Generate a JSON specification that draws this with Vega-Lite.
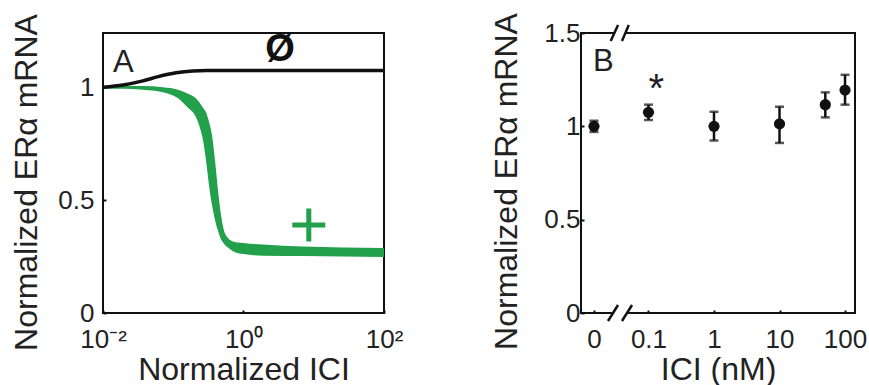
{
  "$schema": "https://vega.github.io/schema/vega-lite/v6.json",
  "padding": {"left": 9, "top": 11, "right": 5, "bottom": 0},
  "background": "white",
  "config": {
    "font": "Liberation Sans",
    "view": {"stroke": "#111", "strokeWidth": 2},
    "axis": {
      "domain": false, "grid": false,
      "labelFont": "Liberation Sans", "labelFontSize": 26, "labelColor": "#222",
      "titleFont": "Liberation Sans", "titleFontSize": 32, "titleFontWeight": "normal", "titleColor": "#222",
      "tickColor": "#111", "tickSize": -3, "tickWidth": 2
    }
  },
  "bounds": "flush",
  "spacing": 197,
  "hconcat": [
    {
      "width": 281, "height": 280,
      "encoding": {
        "x": {"field": "x", "type": "quantitative", "scale": {"type": "log", "domain": [0.01, 100]},
              "axis": {"values": [0.01, 1, 100], "labelExpr": "datum.value < 0.1 ? '10⁻²' : (datum.value > 10 ? '10²' : '10⁰')", "labelPadding": 16, "titlePadding": 2, "labelFlush": false},
              "title": "Normalized ICI"},
        "y": {"field": "y", "type": "quantitative", "scale": {"domain": [0, 1.24]},
              "axis": {"values": [0, 0.5, 1], "format": "~g", "labelPadding": 12, "titlePadding": 14, "titleY": 149},
              "title": "Normalized ERα mRNA"}
      },
      "layer": [
        {
          "data": {"values": [
            {"x": 0.01, "y": 1.005, "lo": 0.993},
            {"x": 0.01927, "y": 1.005, "lo": 0.993},
            {"x": 0.0371, "y": 1.005, "lo": 0.989},
            {"x": 0.07145, "y": 1.0, "lo": 0.978},
            {"x": 0.1168, "y": 0.989, "lo": 0.951},
            {"x": 0.1622, "y": 0.971, "lo": 0.909},
            {"x": 0.204, "y": 0.954, "lo": 0.876},
            {"x": 0.2403, "y": 0.929, "lo": 0.819},
            {"x": 0.2652, "y": 0.909, "lo": 0.765},
            {"x": 0.2925, "y": 0.889, "lo": 0.677},
            {"x": 0.3228, "y": 0.847, "lo": 0.566},
            {"x": 0.3561, "y": 0.788, "lo": 0.478},
            {"x": 0.3928, "y": 0.677, "lo": 0.412},
            {"x": 0.4335, "y": 0.544, "lo": 0.363},
            {"x": 0.4783, "y": 0.434, "lo": 0.327},
            {"x": 0.5278, "y": 0.365, "lo": 0.307},
            {"x": 0.6016, "y": 0.332, "lo": 0.29},
            {"x": 0.7087, "y": 0.317, "lo": 0.274},
            {"x": 1.0, "y": 0.31, "lo": 0.261},
            {"x": 1.895, "y": 0.303, "lo": 0.254},
            {"x": 7.03, "y": 0.294, "lo": 0.252},
            {"x": 26.1, "y": 0.29, "lo": 0.25},
            {"x": 100, "y": 0.288, "lo": 0.248}
          ]},
          "mark": {"type": "area", "color": "#22a04b", "interpolate": "monotone"},
          "encoding": {"y2": {"field": "lo"}}
        },
        {
          "data": {"values": [
            {"x": 0.01, "y": 1.0},
            {"x": 0.0193, "y": 1.01},
            {"x": 0.037, "y": 1.028},
            {"x": 0.061, "y": 1.047},
            {"x": 0.11, "y": 1.064},
            {"x": 0.19, "y": 1.072},
            {"x": 0.3, "y": 1.074},
            {"x": 1, "y": 1.074},
            {"x": 100, "y": 1.074}
          ]},
          "mark": {"type": "line", "color": "#111", "strokeWidth": 3.5, "interpolate": "monotone"}
        },
        {
          "data": {"values": [{"x": 0.01387, "y": 1.066, "t": "A"}]},
          "mark": {"type": "text", "align": "left", "baseline": "alphabetic", "fontSize": 31, "color": "#222"},
          "encoding": {"text": {"field": "t"}}
        },
        {
          "data": {"values": [{"x": 3.3, "y": 1.164, "t": "Ø"}]},
          "mark": {"type": "text", "align": "center", "baseline": "middle", "fontSize": 38, "fontWeight": "bold", "color": "#111"},
          "encoding": {"text": {"field": "t"}}
        },
        {
          "data": {"values": [{"x": 8.5, "y": 0.39}]},
          "mark": {"type": "point", "shape": "M-1,0H1M0,-1V1", "filled": false, "stroke": "#22a04b", "strokeWidth": 5, "size": 1089, "opacity": 1}
        }
      ]
    },
    {
      "width": 274, "height": 280,
      "encoding": {
        "x": {"field": "x", "type": "quantitative", "scale": {"type": "log", "domain": [0.00933, 142]},
              "axis": {"values": [0.01472, 0.1, 1, 10, 100], "labelExpr": "datum.value < 0.05 ? '0' : format(datum.value, '~g')", "labelPadding": 16, "titlePadding": 2, "labelFlush": false},
              "title": "ICI (nM)"},
        "y": {"field": "y", "type": "quantitative", "scale": {"domain": [0, 1.5]},
              "axis": {"values": [0, 0.5, 1, 1.5], "format": "~g", "labelPadding": 4, "titlePadding": 20, "titleY": 148},
              "title": "Normalized ERα mRNA"}
      },
      "layer": [
        {
          "data": {"values": [
            {"xa": 0.0288, "xb": 0.047, "ya": 0},
            {"xa": 0.0305, "xb": 0.044, "ya": 1.5}
          ]},
          "mark": {"type": "rule", "color": "white", "strokeWidth": 5},
          "encoding": {
            "x": {"field": "xa", "type": "quantitative"},
            "x2": {"field": "xb"},
            "y": {"field": "ya", "type": "quantitative"}
          }
        },
        {
          "data": {"values": [
            {"x1": 0.0241, "x2": 0.0343, "y1": -0.043, "y2": 0.043},
            {"x1": 0.0394, "x2": 0.0561, "y1": -0.043, "y2": 0.043},
            {"x1": 0.0265, "x2": 0.0343, "y1": 1.457, "y2": 1.543},
            {"x1": 0.0394, "x2": 0.05, "y1": 1.457, "y2": 1.543}
          ]},
          "mark": {"type": "rule", "color": "#111", "strokeWidth": 2.5},
          "encoding": {
            "x": {"field": "x1", "type": "quantitative"},
            "x2": {"field": "x2"},
            "y": {"field": "y1", "type": "quantitative"},
            "y2": {"field": "y2"}
          }
        },
        {
          "data": {"values": [
            {"ici": 0, "y": 1.0, "lo": 0.97, "hi": 1.03},
            {"ici": 0.1, "y": 1.075, "lo": 1.034, "hi": 1.116},
            {"ici": 1, "y": 1.0, "lo": 0.924, "hi": 1.078},
            {"ici": 10, "y": 1.013, "lo": 0.911, "hi": 1.105},
            {"ici": 50, "y": 1.116, "lo": 1.048, "hi": 1.182},
            {"ici": 100, "y": 1.194, "lo": 1.116, "hi": 1.276}
          ]},
          "transform": [{"calculate": "datum.ici == 0 ? 0.01472 : datum.ici", "as": "x"}],
          "layer": [
            {
              "mark": {"type": "rule", "color": "#111", "strokeWidth": 2.5},
              "encoding": {"y": {"field": "lo", "type": "quantitative"}, "y2": {"field": "hi"}}
            },
            {
              "mark": {"type": "tick", "orient": "horizontal", "color": "#111", "size": 9, "thickness": 2.5},
              "encoding": {"y": {"field": "lo", "type": "quantitative"}}
            },
            {
              "mark": {"type": "tick", "orient": "horizontal", "color": "#111", "size": 9, "thickness": 2.5},
              "encoding": {"y": {"field": "hi", "type": "quantitative"}}
            },
            {
              "mark": {"type": "circle", "color": "#111", "size": 125, "opacity": 1}
            }
          ]
        },
        {
          "data": {"values": [{"x": 0.1, "y": 1.13, "t": "*"}, {"x": 0.0142, "y": 1.297, "t": "B"}]},
          "mark": {"type": "text", "align": "left", "baseline": "alphabetic", "fontSize": 31, "color": "#222"},
          "encoding": {
            "text": {"field": "t"},
            "align": {"condition": {"test": "datum.t == '*'", "value": "center"}, "value": "left"},
            "size": {"condition": {"test": "datum.t == '*'", "value": 40}, "value": 31}
          }
        }
      ]
    }
  ]
}
